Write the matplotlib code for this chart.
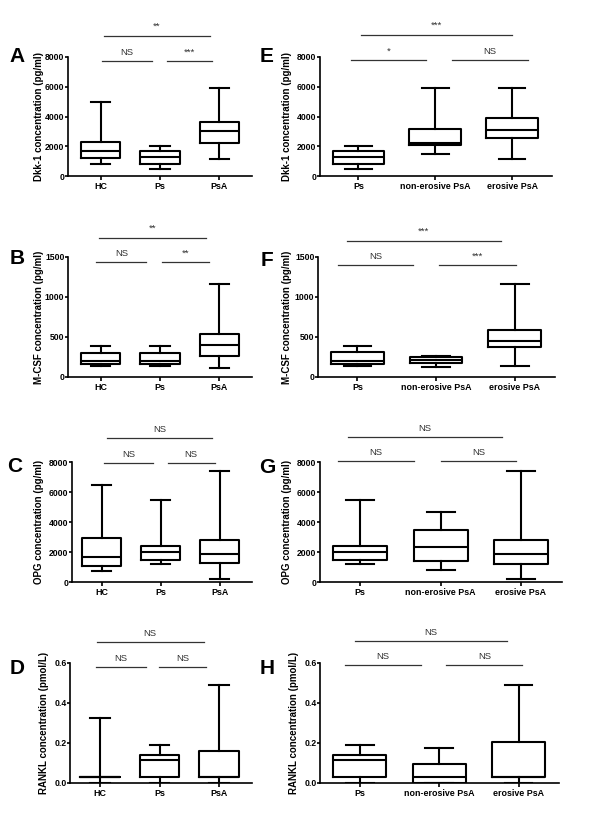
import matplotlib
matplotlib.use("Agg")
import matplotlib.pyplot as plt
import matplotlib.transforms as mtransforms

plt.rcParams['font.family'] = ['Liberation Sans', 'DejaVu Sans']

W, H = 600, 816

groups_left = ["HC", "Ps", "PsA"]
groups_right = ["Ps", "non-erosive PsA", "erosive PsA"]

# ---- data (box statistics) ----
A_hi = [5000, 2000, 5900]
A_q3 = [2280, 1680, 3600]
A_med = [1680, 1300, 3000]
A_q1 = [1230, 790, 2240]
A_lo = [830, 470, 1160]

E_hi = [2000, 5900, 5900]
E_q3 = [1680, 3150, 3900]
E_med = [1300, 2240, 3110]
E_q1 = [790, 2100, 2580]
E_lo = [470, 1460, 1160]

B_hi = [390, 390, 1165]
B_q3 = [306, 306, 532]
B_med = [205, 205, 406]
B_q1 = [165, 165, 260]
B_lo = [140, 140, 117]

F_hi = [390, 265, 1162]
F_q3 = [308, 245, 585]
F_med = [205, 210, 445]
F_q1 = [165, 172, 378]
F_lo = [142, 120, 140]

C_hi = [6500, 5490, 7380]
C_q3 = [2930, 2400, 2780]
C_med = [1670, 2000, 1890]
C_q1 = [1070, 1490, 1270]
C_lo = [710, 1180, 180]

G_hi = [5490, 4670, 7380]
G_q3 = [2400, 3490, 2780]
G_med = [2000, 2330, 1850]
G_q1 = [1490, 1400, 1220]
G_lo = [1180, 780, 180]

D_hi = [0.323, 0.189, 0.488]
D_q3 = [0.03, 0.139, 0.161]
D_med = [0.03, 0.114, 0.03]
D_q1 = [0.03, 0.03, 0.03]
D_lo = [0.0, 0.0, 0.0]

H_hi = [0.189, 0.176, 0.488]
H_q3 = [0.139, 0.094, 0.203]
H_med = [0.114, 0.03, 0.03]
H_q1 = [0.03, 0.0, 0.03]
H_lo = [0.0, 0.0, 0.0]

ylabels = {
    "A": "Dkk-1 concentration (pg/ml)", "E": "Dkk-1 concentration (pg/ml)",
    "B": "M-CSF concentration (pg/ml)", "F": "M-CSF concentration (pg/ml)",
    "C": "OPG concentration (pg/ml)", "G": "OPG concentration (pg/ml)",
    "D": "RANKL concentration (pmol/L)", "H": "RANKL concentration (pmol/L)",
}
yticks_dkk = [0, 2000, 4000, 6000, 8000]
yticks_mcsf = [0, 500, 1000, 1500]
yticks_opg = [0, 2000, 4000, 6000, 8000]
yticks_rankl = [0.0, 0.2, 0.4, 0.6]

# significance annotations: (x start, x end, y in axes fraction, text y, text)
A_sig = [(0.02, 0.86, 0.966, 1.00, "NS"), (1.11, 1.88, 0.966, 1.00, "***"), (0.05, 1.85, 1.176, 1.22, "**")]
E_sig = [(-0.10, 0.88, 0.975, 1.01, "*"), (1.22, 2.21, 0.975, 1.01, "NS"), (0.03, 2.00, 1.185, 1.23, "***")]
B_sig = [(-0.07, 0.77, 0.958, 0.99, "NS"), (1.03, 1.82, 0.958, 0.99, "**"), (-0.03, 1.78, 1.158, 1.20, "**")]
F_sig = [(-0.25, 0.71, 0.933, 0.97, "NS"), (1.04, 2.01, 0.933, 0.97, "***"), (-0.13, 1.82, 1.133, 1.18, "***")]
C_sig = [(0.04, 0.87, 0.99, 1.025, "NS"), (1.12, 1.92, 0.99, 1.025, "NS"), (0.09, 1.88, 1.20, 1.235, "NS")]
G_sig = [(-0.27, 0.67, 1.01, 1.045, "NS"), (1.00, 1.94, 1.01, 1.045, "NS"), (-0.15, 1.76, 1.21, 1.245, "NS")]
D_sig = [(-0.07, 0.77, 0.967, 1.00, "NS"), (0.99, 1.78, 0.967, 1.00, "NS"), (-0.05, 1.74, 1.175, 1.21, "NS")]
H_sig = [(-0.19, 0.77, 0.983, 1.02, "NS"), (1.09, 2.05, 0.983, 1.02, "NS"), (-0.06, 1.86, 1.18, 1.215, "NS")]

panels = [
    # letter, rect px (x0,x1,ytop,ybot), groups, stats, yticks, fmt, sig, letter pos, ylabel x px, xlim, box width, cap width
    ("A", (68, 252, 57, 176), groups_left, (A_lo, A_q1, A_med, A_q3, A_hi), yticks_dkk, "{:.0f}", A_sig, (17, 57), 44, (-0.55, 2.55), 0.66, 0.33),
    ("B", (68, 252, 257, 377), groups_left, (B_lo, B_q1, B_med, B_q3, B_hi), yticks_mcsf, "{:.0f}", B_sig, (17, 258), 44, (-0.55, 2.55), 0.66, 0.33),
    ("C", (72, 252, 462, 582), groups_left, (C_lo, C_q1, C_med, C_q3, C_hi), yticks_opg, "{:.0f}", C_sig, (15, 467), 44, (-0.5, 2.55), 0.66, 0.33),
    ("D", (70, 252, 663, 783), groups_left, (D_lo, D_q1, D_med, D_q3, D_hi), yticks_rankl, "{:.1f}", D_sig, (17, 668), 49, (-0.5, 2.55), 0.66, 0.33),
    ("E", (320, 552, 57, 176), groups_right, (E_lo, E_q1, E_med, E_q3, E_hi), yticks_dkk, "{:.0f}", E_sig, (267, 57), 292, (-0.5, 2.52), 0.67, 0.35),
    ("F", (318, 555, 257, 377), groups_right, (F_lo, F_q1, F_med, F_q3, F_hi), yticks_mcsf, "{:.0f}", F_sig, (267, 260), 292, (-0.5, 2.51), 0.67, 0.35),
    ("G", (320, 562, 462, 582), groups_right, (G_lo, G_q1, G_med, G_q3, G_hi), yticks_opg, "{:.0f}", G_sig, (267, 468), 292, (-0.5, 2.51), 0.67, 0.35),
    ("H", (320, 559, 663, 783), groups_right, (H_lo, H_q1, H_med, H_q3, H_hi), yticks_rankl, "{:.1f}", H_sig, (267, 668), 299, (-0.5, 2.51), 0.67, 0.35),
]

fig = plt.figure(figsize=(W / 100, H / 100), dpi=100)

box_lw = 1.5
ann_color = "#333333"

for (letter, (x0, x1, yt, yb), groups, (lo, q1, med, q3, hi), yticks, fmt, sig,
     (lx, ly), ylab_x, xlim, bw, cw) in panels:
    ax = fig.add_axes([x0 / W, 1 - yb / H, (x1 - x0) / W, (yb - yt) / H])
    stats = [dict(med=m, q1=a, q3=b, whislo=l, whishi=h, label=g)
             for g, l, a, m, b, h in zip(groups, lo, q1, med, q3, hi)]
    pos = list(range(len(groups)))
    ax.bxp(stats, positions=pos, widths=bw, capwidths=cw, showfliers=False,
           boxprops=dict(color="black", linewidth=box_lw),
           medianprops=dict(color="black", linewidth=box_lw),
           whiskerprops=dict(color="black", linewidth=box_lw),
           capprops=dict(color="black", linewidth=box_lw))
    ax.set_xlim(*xlim)
    ax.set_ylim(yticks[0], yticks[-1])
    ax.set_yticks(yticks)
    ax.set_yticklabels([fmt.format(v) for v in yticks], fontsize=6.2, fontweight="bold")
    ax.set_xticks(pos)
    ax.set_xticklabels(groups, fontsize=6.4, fontweight="bold")
    for s in ("top", "right"):
        ax.spines[s].set_visible(False)
    for s in ("left", "bottom"):
        ax.spines[s].set_linewidth(1.2)
    ax.tick_params(axis="y", direction="out", length=2, width=1.2, pad=0.6)
    ax.tick_params(axis="x", direction="out", length=3, width=1.2, pad=1.5)
    ax.set_ylabel(ylabels[letter], fontsize=7.0, fontweight="bold")
    ax.yaxis.set_label_coords((ylab_x - x0) / (x1 - x0), 0.5)

    trans = mtransforms.blended_transform_factory(ax.transData, ax.transAxes)
    for sx0, sx1, sy, ty, txt in sig:
        ax.plot([sx0, sx1], [sy, sy], color=ann_color, linewidth=0.9,
                transform=trans, clip_on=False)
        ax.text((sx0 + sx1) / 2, ty, txt, transform=trans, ha="center", va="bottom",
                fontsize=6.8, color=ann_color)

    fig.text(lx / W, 1 - ly / H, letter, fontsize=15, fontweight="bold",
             ha="center", va="center")

fig.savefig("out.png", dpi=100)
